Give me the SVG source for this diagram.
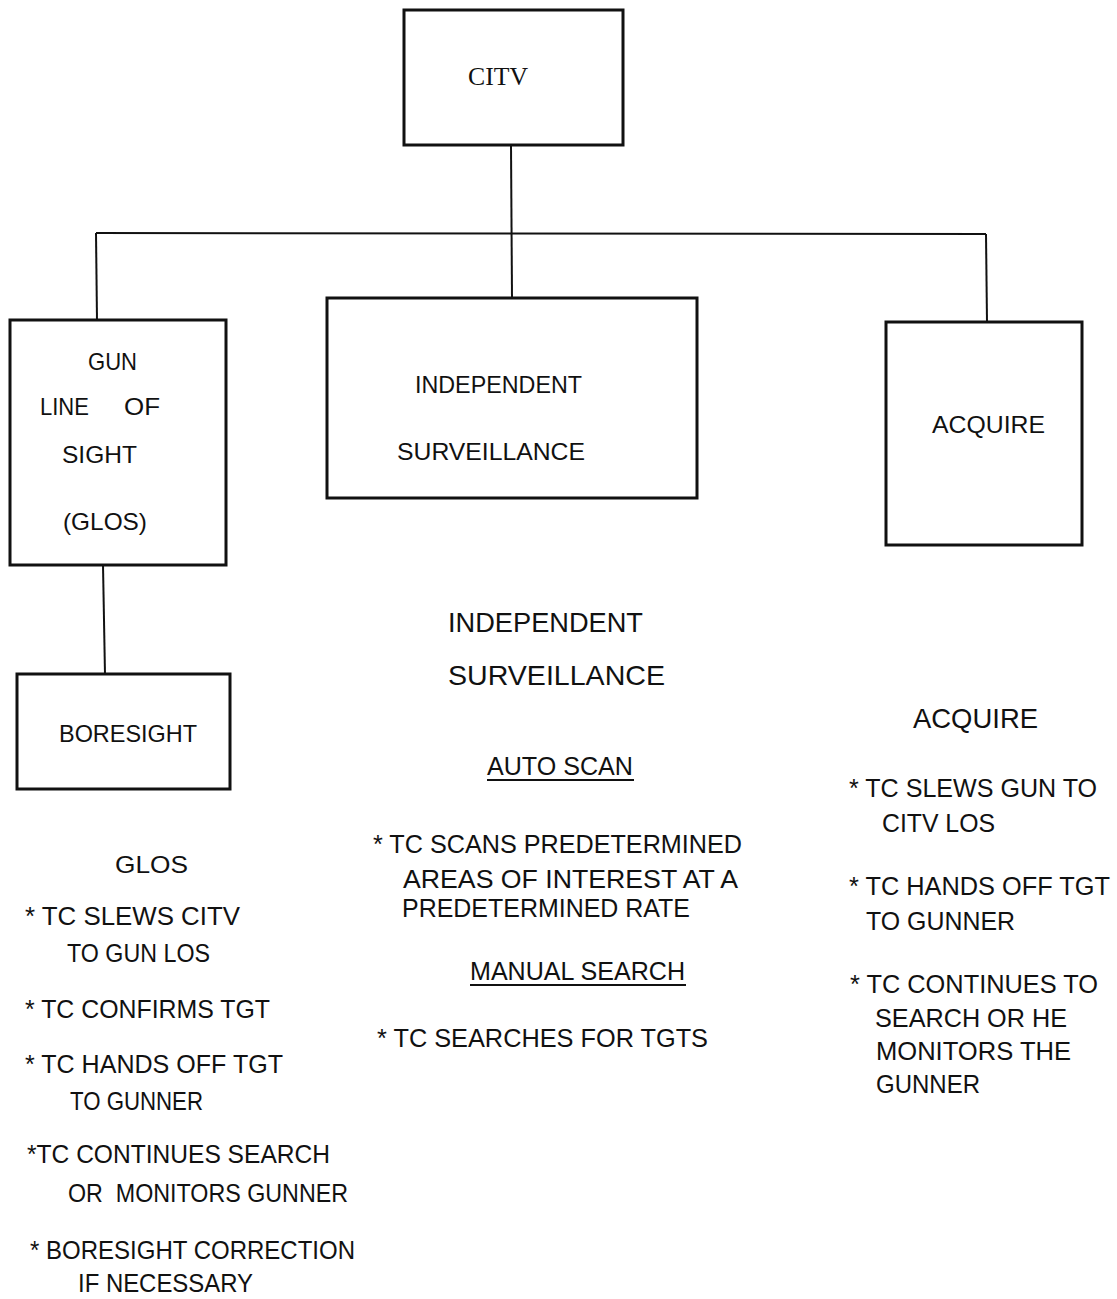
<svg xmlns="http://www.w3.org/2000/svg" width="1117" height="1299" viewBox="0 0 1117 1299">
<style>
.box{fill:none;stroke:#111;stroke-width:3}
.ln{fill:none;stroke:#111;stroke-width:2}
text{font-family:"Liberation Sans",Arial,sans-serif;fill:#111;font-size:24px}
.serif{font-family:"Liberation Serif","Times New Roman",serif;font-size:26px}
.h{font-size:28px}
.b{font-size:25px}
</style>
<rect width="1117" height="1299" fill="#fff"/>
<g id="connectors">
<line class="ln" x1="511" y1="145" x2="512" y2="298"/>
<line class="ln" x1="96" y1="233" x2="986" y2="234"/>
<line class="ln" x1="96" y1="233" x2="97" y2="320"/>
<line class="ln" x1="986" y1="234" x2="987" y2="322"/>
<line class="ln" x1="103" y1="565" x2="105" y2="675"/>
</g>
<g id="node-citv">
<rect class="box" x="404" y="10" width="219" height="135"/>
<text class="serif" x="468" y="85" textLength="60" lengthAdjust="spacingAndGlyphs">CITV</text>
</g>
<g id="node-glos">
<rect class="box" x="10" y="320" width="216" height="245"/>
<text x="88" y="370" textLength="49" lengthAdjust="spacingAndGlyphs">GUN</text>
<text y="415"><tspan x="40" textLength="55" lengthAdjust="spacingAndGlyphs">LINE </tspan><tspan x="124" textLength="36" lengthAdjust="spacingAndGlyphs">OF</tspan></text>
<text x="62" y="463" textLength="75" lengthAdjust="spacingAndGlyphs">SIGHT</text>
<text x="63" y="530" textLength="84" lengthAdjust="spacingAndGlyphs">(GLOS)</text>
</g>
<g id="node-independent">
<rect class="box" x="327" y="298" width="370" height="200"/>
<text x="415" y="393" textLength="167" lengthAdjust="spacingAndGlyphs">INDEPENDENT</text>
<text x="397" y="460" textLength="188" lengthAdjust="spacingAndGlyphs">SURVEILLANCE</text>
</g>
<g id="node-acquire">
<rect class="box" x="886" y="322" width="196" height="223"/>
<text x="932" y="433" textLength="113" lengthAdjust="spacingAndGlyphs">ACQUIRE</text>
</g>
<g id="node-boresight">
<rect class="box" x="17" y="674" width="213" height="115"/>
<text x="59" y="742" textLength="138" lengthAdjust="spacingAndGlyphs">BORESIGHT</text>
</g>
<g id="glos-notes">
<text x="115" y="873" textLength="73" lengthAdjust="spacingAndGlyphs" font-size="23">GLOS</text>
<text class="b" x="25" y="925" textLength="215" lengthAdjust="spacingAndGlyphs">* TC SLEWS CITV</text>
<text class="b" x="67" y="962" textLength="143" lengthAdjust="spacingAndGlyphs">TO GUN LOS</text>
<text class="b" x="25" y="1018" textLength="245" lengthAdjust="spacingAndGlyphs">* TC CONFIRMS TGT</text>
<text class="b" x="25" y="1073" textLength="258" lengthAdjust="spacingAndGlyphs">* TC HANDS OFF TGT</text>
<text class="b" x="70" y="1110" textLength="133" lengthAdjust="spacingAndGlyphs">TO GUNNER</text>
<text class="b" x="27" y="1163" textLength="303" lengthAdjust="spacingAndGlyphs">*TC CONTINUES SEARCH</text>
<text class="b" x="68" y="1202" textLength="280" lengthAdjust="spacingAndGlyphs" xml:space="preserve">OR  MONITORS GUNNER</text>
<text class="b" x="30" y="1259" textLength="325" lengthAdjust="spacingAndGlyphs">* BORESIGHT CORRECTION</text>
<text class="b" x="78" y="1292" textLength="175" lengthAdjust="spacingAndGlyphs">IF NECESSARY</text>
</g>
<g id="independent-notes">
<text class="h" x="448" y="632" textLength="195" lengthAdjust="spacingAndGlyphs">INDEPENDENT</text>
<text class="h" x="448" y="685" textLength="217" lengthAdjust="spacingAndGlyphs">SURVEILLANCE</text>
<text class="b" x="487" y="775" textLength="146" lengthAdjust="spacingAndGlyphs">AUTO SCAN</text>
<line class="ln" x1="487" y1="780" x2="634" y2="780"/>
<text class="b" x="373" y="853" textLength="369" lengthAdjust="spacingAndGlyphs">* TC SCANS PREDETERMINED</text>
<text class="b" x="403" y="888" textLength="335" lengthAdjust="spacingAndGlyphs">AREAS OF INTEREST AT A</text>
<text class="b" x="402" y="917" textLength="288" lengthAdjust="spacingAndGlyphs">PREDETERMINED RATE</text>
<text class="b" x="470" y="980" textLength="215" lengthAdjust="spacingAndGlyphs">MANUAL SEARCH</text>
<line class="ln" x1="470" y1="985" x2="686" y2="985"/>
<text class="b" x="377" y="1047" textLength="331" lengthAdjust="spacingAndGlyphs">* TC SEARCHES FOR TGTS</text>
</g>
<g id="acquire-notes">
<text class="h" x="913" y="728" textLength="125" lengthAdjust="spacingAndGlyphs">ACQUIRE</text>
<text class="b" x="849" y="797" textLength="248" lengthAdjust="spacingAndGlyphs">* TC SLEWS GUN TO</text>
<text class="b" x="882" y="832" textLength="113" lengthAdjust="spacingAndGlyphs">CITV LOS</text>
<text class="b" x="849" y="895" textLength="261" lengthAdjust="spacingAndGlyphs">* TC HANDS OFF TGT</text>
<text class="b" x="866" y="930" textLength="149" lengthAdjust="spacingAndGlyphs">TO GUNNER</text>
<text class="b" x="850" y="993" textLength="248" lengthAdjust="spacingAndGlyphs">* TC CONTINUES TO</text>
<text class="b" x="875" y="1027" textLength="192" lengthAdjust="spacingAndGlyphs">SEARCH OR HE</text>
<text class="b" x="876" y="1060" textLength="195" lengthAdjust="spacingAndGlyphs">MONITORS THE</text>
<text class="b" x="876" y="1093" textLength="104" lengthAdjust="spacingAndGlyphs">GUNNER</text>
</g>
</svg>
